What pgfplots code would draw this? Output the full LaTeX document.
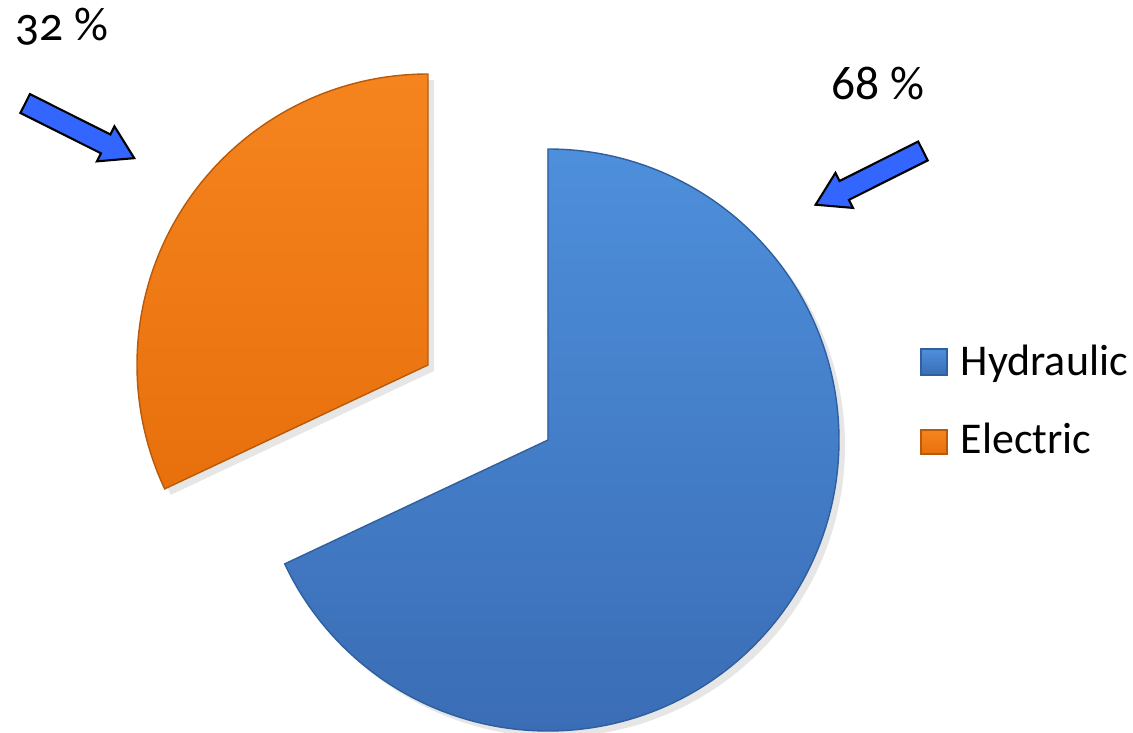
\documentclass[border=0pt]{standalone}
\usepackage{pgfplots}
\pgfplotsset{compat=1.18}
\usepackage{pgfplotstable}
\usepackage{fontspec}
\setmainfont{Carlito}
\newfontfamily\oldnum{Carlito}[Numbers=OldStyle]
\usetikzlibrary{shapes.arrows,shadows}

\definecolor{hydtop}{HTML}{4E8FDB}
\definecolor{hydbot}{HTML}{3A6DB5}
\definecolor{hydedge}{HTML}{2F5F9E}
\definecolor{eletop}{HTML}{F5841F}
\definecolor{elebot}{HTML}{E8700C}
\definecolor{eleedge}{HTML}{B85A0A}
\definecolor{arrowblue}{HTML}{3366FF}

% shares in percent
\pgfplotstableread{
share value
Hydraulic 68
Electric 32
}\piedata

\tikzset{bigarrow/.style={single arrow, draw=black, fill=arrowblue, line width=0.6pt,
    inner sep=0pt, single arrow head extend=0.9mm, single arrow tip angle=63}}

\begin{document}
\begin{tikzpicture}
\pgfplotstablegetelem{0}{value}\of\piedata \edef\vHyd{\pgfplotsretval}
\pgfplotstablegetelem{1}{value}\of\piedata \edef\vEle{\pgfplotsretval}
\pgfmathsetmacro\aHyd{3.6*\vHyd}
\pgfmathsetmacro\aEle{3.6*\vEle}
\begin{axis}[
    hide axis,
    scale only axis,
    width=113.3mm, height=73.2mm,
    xmin=0, xmax=1133, ymin=0, ymax=732,
    clip=false,
  ]
  % Hydraulic slice
  \fill[top color=hydtop, bottom color=hydbot, draw=hydedge, line width=0.4pt,
        drop shadow={opacity=0.2, shadow xshift=0.6mm, shadow yshift=-0.6mm}]
    (axis cs:548,292) -- ++(90:29.1mm)
    arc[start angle=90, delta angle=-\aHyd, radius=29.1mm] -- cycle;
  % Electric slice (exploded)
  \fill[top color=eletop, bottom color=elebot, draw=eleedge, line width=0.4pt,
        drop shadow={opacity=0.2, shadow xshift=0.6mm, shadow yshift=-0.6mm}]
    (axis cs:428,367) -- ++(90:29.1mm)
    arc[start angle=90, delta angle=\aEle, radius=29.1mm] -- cycle;

  % arrows
  \node[bigarrow, minimum height=12.2mm, rotate=-26.6] at (axis cs:72,605) {\rule{0pt}{1.9mm}};
  \node[bigarrow, minimum height=12mm, rotate=206.6] at (axis cs:877,558) {\rule{0pt}{1.9mm}};

  % percentages
  \node[anchor=base, font=\fontsize{13.5}{16}\selectfont\oldnum] at (axis cs:62,691) {32 \%};
  \node[anchor=base, font=\fontsize{13.5}{16}\selectfont] at (axis cs:878,632) {68 \%};

  % legend
  \fill[top color=hydtop, bottom color=hydbot, draw=hydedge, line width=0.3pt]
    (axis cs:921,357) rectangle (axis cs:947,383);
  \node[anchor=base west, inner sep=0pt, font=\fontsize{12.5}{15}\selectfont] at (axis cs:960,357) {Hydraulic};
  \fill[top color=eletop, bottom color=elebot, draw=eleedge, line width=0.3pt]
    (axis cs:921,278) rectangle (axis cs:947,302);
  \node[anchor=base west, inner sep=0pt, font=\fontsize{12.5}{15}\selectfont] at (axis cs:960,279) {Electric};
\end{axis}
\pgfresetboundingbox
\path (current axis.south west) rectangle (current axis.north east);
\end{tikzpicture}
\end{document}
